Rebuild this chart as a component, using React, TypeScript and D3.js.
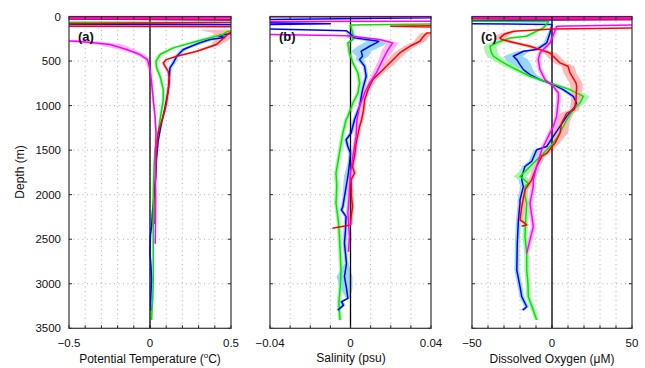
import React from 'react';
import * as d3 from 'd3';

type P = [number, number, number]; // [depth (m), value, band half-width]

const depthTicks = [0, 500, 1000, 1500, 2000, 2500, 3000, 3500];
const tempTicks = [-0.5, 0, 0.5];
const tempTickLabels = ['\u22120.5', '0', '0.5'];
const tempGrid = [-0.4, -0.3, -0.2, -0.1, 0, 0.1, 0.2, 0.3, 0.4];
const salTicks = [-0.04, 0, 0.04];
const salTickLabels = ['\u22120.04', '0', '0.04'];
const salGrid = [-0.03, -0.02, -0.01, 0, 0.01, 0.02, 0.03];
const oxyTicks = [-50, 0, 50];
const oxyTickLabels = ['\u221250', '0', '50'];
const oxyGrid = [-40, -30, -20, -10, 0, 10, 20, 30, 40];

// ---------- (a) Potential temperature anomaly ----------
const tempBlue: P[] = [
  [0, 2, 0], [12, -2, 0], [55, 2, 0], [85, -2, 0], [95, 2, 0], [150, 0.9, 0.1], [190, 0.5, 0.06], [215, 0.42, 0.05], [235, 0.46, 0.05],
  [259, 0.37, 0.04], [300, 0.3, 0.03], [371, 0.206, 0.02], [446, 0.165, 0.015], [521, 0.144, 0.015],
  [577, 0.123, 0.012], [671, 0.12, 0.01], [821, 0.113, 0.01], [953, 0.1, 0.01], [1046, 0.09, 0.008],
  [1200, 0.07, 0.008], [1400, 0.05, 0.006], [1600, 0.04, 0.006], [1800, 0.035, 0.005], [2000, 0.025, 0.005],
  [2200, 0.015, 0.005], [2359, 0.01, 0.005], [2450, 0.003, 0.005], [2656, 0.0, 0.004], [2800, 0.006, 0.004],
  [2958, 0.01, 0.004], [3100, 0.006, 0.004], [3218, 0.004, 0.004], [3300, 0.006, 0.004],
];
const tempGreen: P[] = [
  [0, -2, 0], [60, -2, 0], [70, 2, 0], [140, 0.7, 0.05], [165, 0.48, 0.04], [202, 0.45, 0.04], [278, 0.29, 0.03],
  [352, 0.144, 0.02], [427, 0.062, 0.015], [502, 0.037, 0.012], [577, 0.041, 0.01], [671, 0.062, 0.01],
  [821, 0.082, 0.01], [934, 0.082, 0.01], [1046, 0.072, 0.008], [1159, 0.062, 0.008], [1308, 0.051, 0.006],
  [1496, 0.031, 0.006], [1684, 0.025, 0.005], [1984, 0.02, 0.005], [2200, 0.02, 0.005], [2471, 0.02, 0.005],
  [2768, 0.02, 0.005], [2958, 0.02, 0.005], [3146, 0.017, 0.005], [3300, 0.012, 0.005], [3408, 0.01, 0.005],
];
const tempRed: P[] = [
  [0, 2, 0], [22, -2, 0], [40, 2, 0], [105, -2, 0], [120, 2, 0], [150, 0.6, 0.3], [184, 0.49, 0.1], [250, 0.45, 0.05], [315, 0.41, 0.03],
  [390, 0.29, 0.02], [446, 0.165, 0.015], [484, 0.1, 0.012], [521, 0.082, 0.01], [559, 0.093, 0.01],
  [615, 0.113, 0.01], [709, 0.12, 0.01], [821, 0.113, 0.01], [953, 0.103, 0.01], [1046, 0.093, 0.008],
  [1159, 0.075, 0.008], [1305, 0.05, 0.006], [1496, 0.041, 0.006], [1684, 0.037, 0.005], [1909, 0.032, 0.005],
  [2058, 0.031, 0.005], [2246, 0.031, 0.005], [2330, 0.03, 0.005],
];
const tempMagenta: P[] = [
  [0, -2, 0], [8, 2, 0], [30, -2, 0], [250, -0.9, 0.3], [278, -0.45, 0.1], [296, -0.35, 0.1], [315, -0.247, 0.08],
  [371, -0.144, 0.05], [427, -0.062, 0.03], [484, -0.015, 0.02], [596, 0, 0.01], [746, 0.01, 0.008],
  [934, 0.02, 0.008], [1121, 0.031, 0.006], [1308, 0.037, 0.006], [1571, 0.033, 0.005], [1800, 0.033, 0.005],
  [2000, 0.035, 0.005], [2283, 0.034, 0.005], [2471, 0.033, 0.005], [2550, 0.032, 0.005],
];

// ---------- (b) Salinity anomaly ----------
const salBlue: P[] = [
  [0, 0.1, 0], [50, -0.1, 0], [80, -0.01, 0], [110, -0.1, 0], [160, -0.002, 0.001], [202, 0.0003, 0.002],
  [240, 0.002, 0.004], [278, 0.014, 0.006], [296, 0.0128, 0.006], [334, 0.0095, 0.006], [390, 0.0053, 0.005],
  [446, 0.006, 0.003], [484, 0.0045, 0.002], [559, 0.007, 0.001], [671, 0.0078, 0.001], [821, 0.006, 0.001],
  [1009, 0.0045, 0.001], [1159, 0.002, 0.001], [1308, 0.0003, 0.001], [1383, -0.0022, 0.001],
  [1459, -0.0013, 0.001], [1534, 0, 0.001], [1650, -0.0005, 0.001], [1796, -0.0013, 0.002], [2021, -0.003, 0.001],
  [2134, -0.0038, 0.001], [2171, -0.0045, 0.001], [2246, -0.0022, 0.001], [2400, -0.0025, 0.001],
  [2546, -0.003, 0.001], [2771, -0.002, 0.001], [2921, -0.003, 0.004], [3050, -0.002, 0.003],
  [3164, -0.0013, 0.001], [3202, -0.0045, 0.001], [3240, -0.0035, 0.001], [3296, -0.0063, 0.001],
];
const salGreen: P[] = [
  [0, -0.1, 0], [5, 0.1, 0], [70, 0.1, 0], [95, 0.0, 0.001], [180, 0.001, 0.001], [259, 0.0012, 0.001],
  [296, -0.0013, 0.001], [409, -0.0005, 0.001], [521, 0.0012, 0.001], [634, 0.0037, 0.001], [746, 0.0045, 0.001],
  [859, 0.0037, 0.001], [971, 0.0012, 0.001], [1121, -0.0013, 0.001], [1159, -0.0022, 0.001],
  [1308, -0.0038, 0.001], [1534, -0.0055, 0.001], [1759, -0.0072, 0.001], [1900, -0.0068, 0.001],
  [2096, -0.0072, 0.001], [2300, -0.006, 0.001], [2471, -0.0055, 0.001], [2846, -0.0047, 0.001],
  [3000, -0.005, 0.001], [3221, -0.0058, 0.001], [3408, -0.0052, 0.001],
];
const salRed: P[] = [
  [0, 0.1, 0], [90, 0.1, 0], [110, 0.02, 0], [140, 0.1, 0], [184, 0.038, 0.003], [230, 0.036, 0.003],
  [278, 0.0345, 0.003], [334, 0.0295, 0.003], [409, 0.0245, 0.003], [521, 0.0195, 0.003], [634, 0.0145, 0.002],
  [709, 0.011, 0.002], [821, 0.0087, 0.001], [934, 0.007, 0.001], [1046, 0.0065, 0.001], [1159, 0.0055, 0.001],
  [1234, 0.0045, 0.001], [1421, 0.0028, 0.001], [1571, 0.002, 0.001], [1684, 0.001, 0.001], [1759, 0.002, 0.001],
  [1834, 0.0003, 0.001], [2021, 0.0005, 0.001], [2134, 0.001, 0.001], [2246, 0.0003, 0.001], [2340, 0.0, 0.001],
  [2377, -0.009, 0],
];
const salMagenta: P[] = [
  [0, -0.1, 0], [8, 0.1, 0], [50, 0.1, 0], [60, -0.1, 0], [180, -0.1, 0], [215, -0.001, 0.002],
  [240, 0.008, 0.003], [259, 0.0145, 0.003], [296, 0.021, 0.003], [371, 0.0187, 0.003], [484, 0.016, 0.002],
  [634, 0.0128, 0.002], [746, 0.0095, 0.001], [859, 0.007, 0.001], [1009, 0.0045, 0.001], [1159, 0.0032, 0.001],
  [1346, 0.0028, 0.001], [1571, 0.0012, 0.001], [1750, 0.0, 0.001], [1946, -0.0005, 0.001],
  [2208, -0.0013, 0.001], [2471, -0.0005, 0.001], [2640, -0.001, 0.001],
];

// ---------- (c) Dissolved oxygen anomaly ----------
const oxyBlue: P[] = [
  [0, 100, 0], [30, 100, 0], [50, -100, 0], [70, -100, 0], [90, 0, 0], [184, -1.25, 1.5], [296, -3.3, 2],
  [371, -9.6, 3], [390, -17.9, 4], [446, -24.2, 6], [484, -22, 7], [540, -20, 7], [596, -17.9, 6],
  [652, -13.75, 4], [709, -7.5, 3], [765, 0.8, 2], [821, 7, 2], [896, 13.3, 2], [971, 15.4, 2], [1009, 14.4, 2],
  [1121, 9.2, 2], [1234, 5, 2], [1346, 0.8, 2], [1459, -3.3, 2], [1496, -9.6, 2], [1627, -12.7, 2],
  [1684, -16.9, 2], [1796, -18.9, 2], [1834, -18.9, 2], [1909, -17.9, 2], [2058, -20, 1.5], [2096, -20, 1.5],
  [2283, -21, 1.5], [2546, -21.7, 1.5], [2846, -22, 1.5], [3033, -20, 1.5], [3146, -18.9, 1.5],
  [3258, -15.8, 1.5], [3296, -18.3, 1.5],
];
const oxyGreen: P[] = [
  [0, 100, 0], [15, -100, 0], [45, -100, 0], [60, -2, 0], [127, -5.4, 2], [165, -9.6, 2], [221, -15.8, 3],
  [240, -26.25, 3], [290, -34, 4], [334, -38.75, 4], [400, -38, 4], [446, -36.7, 4], [500, -32, 4],
  [559, -26.25, 4], [671, -13.75, 3], [746, -1.25, 3], [821, 11.25, 3], [896, 19.6, 4], [971, 17.5, 3],
  [1046, 13.3, 2], [1159, 9.2, 2], [1308, 5, 2], [1421, 0.8, 2], [1534, -5.4, 2], [1647, -11.7, 3],
  [1796, -20, 4], [1871, -14.8, 3], [1909, -16.9, 2], [2021, -16.9, 2], [2096, -15.8, 2], [2300, -16.5, 1.5],
  [2471, -16.9, 1.5], [2658, -15.8, 1.5], [2846, -15.8, 1.5], [3000, -15, 1.5], [3146, -14.8, 1.5],
  [3296, -11.7, 1.5], [3408, -9.6, 1.5],
];
const oxyRed: P[] = [
  [0, 100, 0], [20, -100, 0], [40, 100, 0], [120, 100, 0], [139, 1, 2], [165, -24, 3], [200, -30, 4],
  [240, -32.5, 4], [259, -31.5, 4], [300, -22, 4], [334, -13.75, 4], [409, -1.25, 4], [521, 5, 4],
  [559, 10, 4], [634, 11.25, 4], [746, 15, 4], [784, 15.4, 4], [934, 15, 3], [1046, 14, 3], [1084, 9.2, 4],
  [1196, 6, 5], [1308, 5, 5], [1421, 1.9, 3], [1534, -3.3, 2], [1571, -6.4, 2], [1684, -9.6, 2],
  [1834, -12.7, 2], [1946, -16.9, 2], [2134, -18.9, 2], [2283, -20, 2], [2320, -17, 1.5], [2340, -15.8, 1.5],
  [2355, -19, 1],
];
const oxyMagenta: P[] = [
  [0, 100, 0], [10, -100, 0], [25, 100, 0], [80, 100, 0], [109, 2.9, 1], [200, 1, 1.5], [296, -1.25, 1.5],
  [352, -4.4, 1.5], [409, -7.5, 1.5], [484, -8.6, 1.5], [596, -7.5, 1.5], [709, -4.4, 1.5], [784, 0.8, 1.5],
  [859, 4, 1.5], [934, 4, 1.5], [1046, 3.3, 1.5], [1121, 2.9, 1.5], [1234, 0.8, 1.5], [1346, -2.3, 1.5],
  [1459, -5.4, 1.5], [1496, -6.4, 1.5], [1684, -9.6, 1.5], [1834, -11.7, 1.5], [1909, -11.7, 1.5],
  [2096, -13.75, 1.5], [2359, -11.7, 1.5], [2508, -13.75, 1.5], [2658, -15.8, 1.5],
];

const W = 645;
const H = 368;
const yTop = 16.5;
const yBot = 328.3;

const LINE = { blue: '#0000ff', green: '#00e800', red: '#ff0000', magenta: '#ff00ff' };
const BAND = { blue: '#8fd3f5', green: '#a6f2a6', red: '#ffb3b3', magenta: '#ffb3f2' };

type Series = { c: keyof typeof LINE; data: P[] };
type PanelCfg = {
  id: string;
  left: number;
  right: number;
  domain: [number, number];
  ticks: number[];
  tickLabels: string[];
  grid: number[];
  letter: string;
  series: Series[];
};

const panels: PanelCfg[] = [
  {
    id: 'a', left: 69, right: 231, domain: [-0.5, 0.5], ticks: tempTicks, tickLabels: tempTickLabels, grid: tempGrid,
    letter: '(a)',
    series: [{ c: 'blue', data: tempBlue }, { c: 'green', data: tempGreen }, { c: 'red', data: tempRed }, { c: 'magenta', data: tempMagenta }],
  },
  {
    id: 'b', left: 270, right: 431, domain: [-0.04, 0.04], ticks: salTicks, tickLabels: salTickLabels, grid: salGrid,
    letter: '(b)',
    series: [{ c: 'green', data: salGreen }, { c: 'blue', data: salBlue }, { c: 'red', data: salRed }, { c: 'magenta', data: salMagenta }],
  },
  {
    id: 'c', left: 472, right: 632, domain: [-50, 50], ticks: oxyTicks, tickLabels: oxyTickLabels, grid: oxyGrid,
    letter: '(c)',
    series: [{ c: 'blue', data: oxyBlue }, { c: 'green', data: oxyGreen }, { c: 'red', data: oxyRed }, { c: 'magenta', data: oxyMagenta }],
  },
];

const y = d3.scaleLinear().domain([0, 3500]).range([yTop, yBot]);
const FONT = 'Liberation Sans, Arial, Helvetica, sans-serif';

function Panel({ cfg }: { cfg: PanelCfg }) {
  const x = d3.scaleLinear().domain(cfg.domain).range([cfg.left, cfg.right]);
  const line = d3.line<P>().x((d) => x(d[1])).y((d) => y(d[0]));
  const area = d3
    .area<P>()
    .y((d) => y(d[0]))
    .x0((d) => x(d[1] - d[2]))
    .x1((d) => x(d[1] + d[2]));
  const clipId = `clip-${cfg.id}`;
  const hGrid = depthTicks.slice(1, -1);
  return (
    <g>
      <defs>
        <clipPath id={clipId}>
          <rect x={cfg.left} y={yTop} width={cfg.right - cfg.left} height={yBot - yTop} />
        </clipPath>
      </defs>
      <rect x={cfg.left} y={yTop} width={cfg.right - cfg.left} height={yBot - yTop} fill="#fff" />
      {cfg.grid.map((g) => (
        <line key={'vg' + g} x1={x(g)} x2={x(g)} y1={yTop} y2={yBot} stroke="#9a9a9a" strokeWidth={0.8} strokeDasharray="1,3.5" />
      ))}
      {hGrid.map((d) => (
        <line key={'hg' + d} x1={cfg.left} x2={cfg.right} y1={y(d)} y2={y(d)} stroke="#9a9a9a" strokeWidth={0.8} strokeDasharray="1,3.5" />
      ))}
      <g clipPath={`url(#${clipId})`}>
        {cfg.series.map((s) => (
          <path key={'b' + s.c} d={area(s.data) || ''} fill={BAND[s.c]} stroke="none" opacity={0.9} />
        ))}
        <line x1={x(0)} x2={x(0)} y1={yTop} y2={yBot} stroke="#000" strokeWidth={1.3} />
        {cfg.series.map((s) => (
          <path key={'l' + s.c} d={line(s.data) || ''} fill="none" stroke={LINE[s.c]} strokeWidth={1.5} strokeLinejoin="round" />
        ))}
      </g>
      {cfg.grid.concat(cfg.ticks).map((g, i) => (
        <g key={'t' + i}>
          <line x1={x(g)} x2={x(g)} y1={yTop} y2={yTop + 3} stroke="#222" strokeWidth={1} />
          <line x1={x(g)} x2={x(g)} y1={yBot} y2={yBot - 3} stroke="#222" strokeWidth={1} />
        </g>
      ))}
      {depthTicks.map((d) => (
        <g key={'yt' + d}>
          <line x1={cfg.left} x2={cfg.left + 3} y1={y(d)} y2={y(d)} stroke="#222" strokeWidth={1} />
          <line x1={cfg.right} x2={cfg.right - 3} y1={y(d)} y2={y(d)} stroke="#222" strokeWidth={1} />
        </g>
      ))}
      <rect x={cfg.left} y={yTop} width={cfg.right - cfg.left} height={yBot - yTop} fill="none" stroke="#333" strokeWidth={1.2} />
      {cfg.ticks.map((t, i) => (
        <text key={'tl' + t} x={x(t)} y={347} fontSize={11.5} fontFamily={FONT} textAnchor="middle" fill="#111">
          {cfg.tickLabels[i]}
        </text>
      ))}
      <text x={cfg.left + 9} y={41} fontSize={13} fontWeight="bold" fontFamily={FONT} fill="#111">
        {cfg.letter}
      </text>
    </g>
  );
}

export default function App() {
  return (
    <svg
      width={W}
      height={H}
      viewBox={`0 0 ${W} ${H}`}
      style={{ position: 'absolute', left: 0, top: 0, background: '#fff', display: 'block' }}
    >
      <rect width={W} height={H} fill="#fff" />
      {panels.map((p) => (
        <Panel key={p.id} cfg={p} />
      ))}
      {depthTicks.map((d) => (
        <text key={'yl' + d} x={61} y={y(d) + 4} fontSize={11.5} fontFamily={FONT} textAnchor="end" fill="#111">
          {d}
        </text>
      ))}
      <text x={0} y={0} transform={`translate(24,172) rotate(-90)`} fontSize={12} fontFamily={FONT} textAnchor="middle" fill="#111">
        Depth (m)
      </text>
      <text x={150} y={363} fontSize={12} fontFamily={FONT} textAnchor="middle" fill="#111">
        Potential Temperature (<tspan fontSize={8} dy={-5}>o</tspan><tspan dy={5}>C)</tspan>
      </text>
      <text x={351} y={362} fontSize={12} fontFamily={FONT} textAnchor="middle" fill="#111">
        Salinity (psu)
      </text>
      <text x={552} y={363} fontSize={12} fontFamily={FONT} textAnchor="middle" fill="#111">
        Dissolved Oxygen (μM)
      </text>
    </svg>
  );
}
